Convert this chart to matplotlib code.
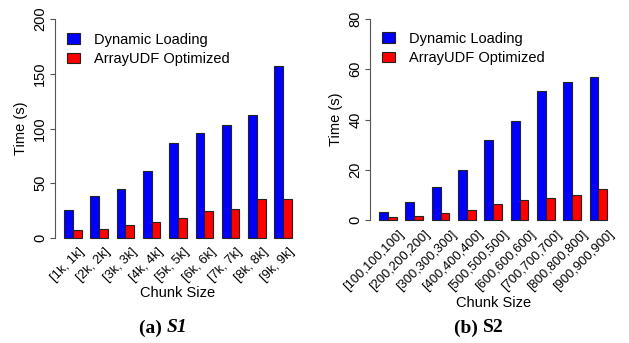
import numpy as np
import matplotlib
matplotlib.use('Agg')
import matplotlib.pyplot as plt
from matplotlib.patches import Patch

plt.rcParams['font.family'] = ['Liberation Sans', 'DejaVu Sans']

# data
labels_s1 = ['[1k, 1k]', '[2k, 2k]', '[3k, 3k]', '[4k, 4k]', '[5k, 5k]',
             '[6k, 6k]', '[7k, 7k]', '[8k, 8k]', '[9k, 9k]']
dyn_s1 = [26, 38.5, 44.5, 61, 86.5, 96, 103, 112, 157.5]
opt_s1 = [7.3, 8.5, 11.5, 14.3, 18, 24.3, 26.8, 36, 36]

labels_s2 = ['[100,100,100]', '[200,200,200]', '[300,300,300]', '[400,400,400]',
             '[500,500,500]', '[600,600,600]', '[700,700,700]', '[800,800,800]',
             '[900,900,900]']
dyn_s2 = [3.0, 7.0, 13.0, 19.8, 32.0, 39.5, 51.2, 54.8, 57.0]
opt_s2 = [1.1, 1.6, 2.7, 4.0, 6.2, 7.8, 8.9, 10.1, 12.2]

fs = 10.5
W, H = 629, 343
fig = plt.figure(figsize=(W/100., H/100.), dpi=100)
serif = ['Liberation Serif', 'DejaVu Serif']

def px_axes(x0, x1, ytop, ybot):
    return [x0/W, 1 - ybot/H, (x1 - x0)/W, (ybot - ytop)/H]

def panel(ax, labels, dyn, opt, ymax, step, lab_off, lab_pad, xlab_y, cap, cap_x):
    n = len(labels)
    g = np.arange(n)*3
    ax.bar(g + 1.5, dyn, width=1, color='#0000FF', edgecolor='#222222', linewidth=0.8)
    ax.bar(g + 2.5, opt, width=1, color='#FF0000', edgecolor='#222222', linewidth=0.8)
    ax.set_xlim(-0.04, 28.04)
    ax.set_ylim(-0.04*ymax, 1.04*ymax)
    for s in ['top', 'right', 'bottom']:
        ax.spines[s].set_visible(False)
    ax.spines['left'].set_bounds(0, ymax)
    ax.spines['left'].set_color('#555555')
    ax.set_yticks(np.arange(0, ymax + 1, step))
    ax.tick_params(axis='y', length=3.6, width=0.8, color='#555555', pad=2,
                   labelsize=fs, labelrotation=90)
    for t in ax.get_yticklabels():
        t.set_va('center')
    ax.set_xticks(g + 2 + lab_off)
    ax.set_xticklabels(labels, rotation=45, ha='right', va='center',
                       rotation_mode='anchor', fontsize=9.3)
    ax.tick_params(axis='x', length=0, pad=lab_pad)
    ax.set_ylabel('Time (s)', fontsize=fs)
    ax.yaxis.set_label_coords(-0.11, 0.5)
    ax.text(0.5, xlab_y, 'Chunk Size', transform=ax.transAxes, ha='center',
            va='center', fontsize=fs)
    handles = [Patch(facecolor='#0000FF', edgecolor='#222222', linewidth=0.8),
               Patch(facecolor='#FF0000', edgecolor='#222222', linewidth=0.8)]
    ax.legend(handles, ['Dynamic Loading', 'ArrayUDF Optimized'], loc='upper left',
              bbox_to_anchor=(0.05, 0.905), frameon=False, fontsize=fs,
              handlelength=0.9, handleheight=0.75, handletextpad=0.9,
              labelspacing=0.38, borderpad=0, borderaxespad=0)
    # caption: "(x) " upright bold, name bold (italic for S1)
    pre, name, italic = cap
    x = cap_x + 3
    fig.text(x/W, 1 - 328./H, pre + ' ', ha='right', va='center',
             family=serif, fontweight='bold', fontsize=14)
    fig.text(x/W, 1 - 328./H, name, ha='left', va='center', family=serif,
             fontweight='bold', fontstyle='italic' if italic else 'normal', fontsize=14)

ax1 = fig.add_axes(px_axes(55, 301, 10.2, 246.8))
panel(ax1, labels_s1, dyn_s1, opt_s1, 200, 50, 1.1, 2.5, -0.195, ('(a)', 'S1', True), 164)

ax2 = fig.add_axes(px_axes(370, 616.4, 11, 228))
panel(ax2, labels_s2, dyn_s2, opt_s2, 80, 20, 1.6, 3.5, -0.346, ('(b)', 'S2', False), 480)

fig.savefig('out.png', dpi=100)
